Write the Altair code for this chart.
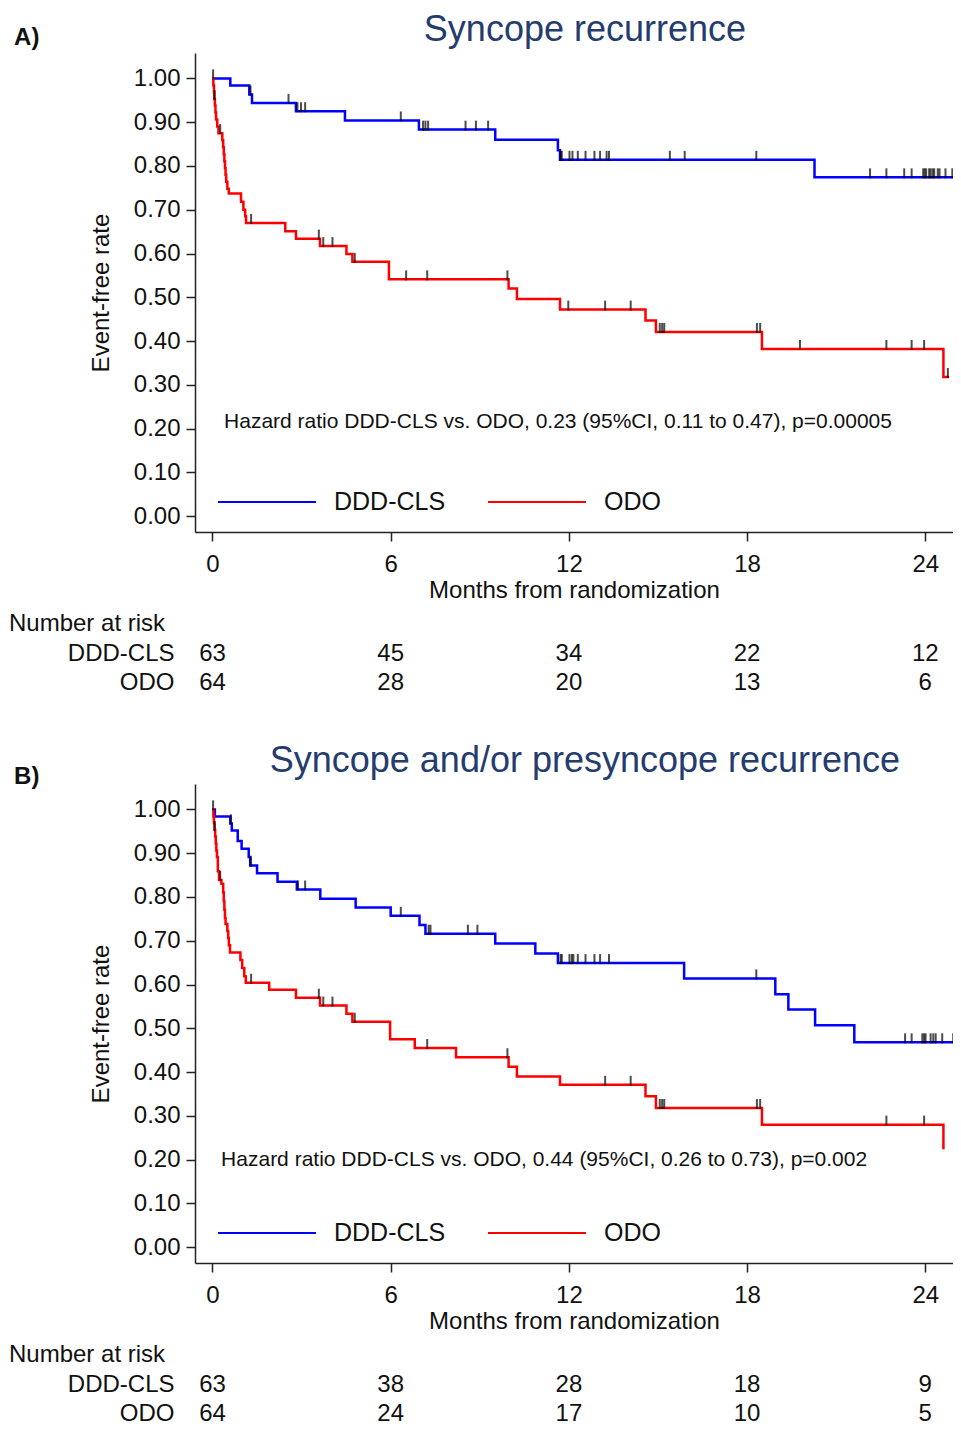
import altair as alt
import pandas as pd

FONT = "Liberation Sans"
GROUPS = ["DDD-CLS", "ODO"]
COLORS = ["#0000FF", "#FF0000"]
MONTH_TICKS = [0, 6, 12, 18, 24]
RATE_TICKS = [0.0, 0.1, 0.2, 0.3, 0.4, 0.5, 0.6, 0.7, 0.8, 0.9, 1.0]
RISK_MONTHS = [0, 6, 12, 18, 24]

# ---------------- Panel A: Syncope recurrence ----------------
a_ddd_t = [0, 0.60, 1.24, 1.33, 2.81, 4.46, 6.95, 9.52, 11.63, 11.70, 20.27, 24.96]
a_ddd_s = [1.0, 0.984, 0.963, 0.944, 0.925, 0.904, 0.883, 0.860, 0.836, 0.814, 0.774, 0.774]
a_ddd_c = [0.02, 1.28, 2.56, 2.86, 2.98, 3.12, 6.34, 7.09, 7.17, 7.26, 8.52, 8.87, 9.28,
           11.72, 11.76, 12.02, 12.12, 12.30, 12.56, 12.86, 13.05, 13.27, 13.35, 15.40,
           15.90, 18.31, 22.14, 22.69, 23.29, 23.54, 23.93, 23.98, 24.03, 24.13, 24.18,
           24.25, 24.30, 24.42, 24.48, 24.68, 24.91]

a_odo_t = [0, 0.03, 0.05, 0.06, 0.08, 0.10, 0.12, 0.16, 0.20, 0.33, 0.36, 0.38, 0.40,
           0.42, 0.44, 0.46, 0.50, 0.55, 0.96, 1.04, 1.10, 1.13, 2.45, 2.81, 3.62, 4.51,
           4.71, 5.94, 9.97, 10.25, 11.70, 14.58, 14.93, 18.50, 24.61, 24.80]
a_odo_s = [1.0, 0.984, 0.969, 0.953, 0.938, 0.922, 0.906, 0.890, 0.875, 0.859, 0.843,
           0.827, 0.811, 0.795, 0.780, 0.764, 0.748, 0.737, 0.718, 0.700, 0.685, 0.670,
           0.651, 0.634, 0.617, 0.599, 0.581, 0.541, 0.520, 0.496, 0.472, 0.447, 0.421,
           0.382, 0.318, 0.318]
a_odo_c = [0.07, 0.26, 1.30, 3.58, 3.73, 4.04, 4.79, 6.52, 7.23, 9.93, 11.98, 13.22,
           14.08, 15.06, 15.14, 15.21, 18.33, 18.44, 19.78, 22.69, 23.54, 23.96, 24.76]

a_risk_ddd = [63, 45, 34, 22, 12]
a_risk_odo = [64, 28, 20, 13, 6]
a_title = "Syncope recurrence"
a_hr = "Hazard ratio DDD-CLS vs. ODO, 0.23 (95%CI, 0.11 to 0.47), p=0.00005"

# ---------------- Panel B: Syncope and/or presyncope recurrence ----------------
b_ddd_t = [0, 0.08, 0.60, 0.65, 0.85, 0.98, 1.22, 1.27, 1.50, 2.19, 2.84, 3.63, 4.82,
           6.00, 6.97, 7.17, 9.52, 10.87, 11.63, 15.88, 18.95, 19.39, 20.29, 21.61, 24.96]
b_ddd_s = [1.0, 0.984, 0.968, 0.952, 0.928, 0.910, 0.891, 0.872, 0.854, 0.835, 0.817,
           0.796, 0.776, 0.757, 0.736, 0.716, 0.694, 0.671, 0.649, 0.614, 0.578, 0.543,
           0.507, 0.468, 0.468]
b_ddd_c = [0.02, 0.62, 1.29, 2.88, 3.12, 6.34, 7.28, 7.34, 8.60, 8.92, 11.72, 11.76,
           12.02, 12.10, 12.15, 12.30, 12.56, 12.86, 13.05, 13.35, 18.31, 23.32, 23.54,
           23.90, 23.96, 24.01, 24.18, 24.27, 24.35, 24.57, 24.94]

b_odo_t = [0, 0.03, 0.05, 0.07, 0.09, 0.11, 0.13, 0.15, 0.18, 0.22, 0.30, 0.36, 0.38,
           0.40, 0.42, 0.44, 0.50, 0.53, 0.55, 0.59, 0.94, 1.00, 1.07, 1.12, 1.91, 2.81,
           3.62, 4.51, 4.71, 5.98, 6.81, 8.20, 9.97, 10.25, 11.70, 14.58, 14.93, 18.50,
           24.61]
b_odo_s = [1.0, 0.984, 0.969, 0.953, 0.938, 0.922, 0.906, 0.891, 0.859, 0.839, 0.830,
           0.810, 0.790, 0.771, 0.752, 0.738, 0.722, 0.706, 0.690, 0.673, 0.656, 0.638,
           0.619, 0.604, 0.588, 0.570, 0.552, 0.533, 0.515, 0.475, 0.455, 0.434, 0.412,
           0.390, 0.371, 0.345, 0.318, 0.280, 0.224]
b_odo_c = [0.07, 0.26, 1.30, 3.58, 3.73, 4.04, 4.79, 7.23, 9.93, 13.22, 14.08, 15.06,
           15.14, 15.21, 18.33, 18.44, 22.69, 23.96]

b_risk_ddd = [63, 38, 28, 18, 9]
b_risk_odo = [64, 24, 17, 10, 5]
b_title = "Syncope and/or presyncope recurrence"
b_hr = "Hazard ratio DDD-CLS vs. ODO, 0.44 (95%CI, 0.26 to 0.73), p=0.002"

X_DOMAIN = [-0.589, 24.933]
Y_DOMAIN = [-0.036, 1.058]
W, H = 758, 479


def curve_df(times, surv, group):
    return pd.DataFrame({"month": times, "surv": surv, "group": group})


def censor_df(ctimes, times, surv, group):
    levels = []
    for c in ctimes:
        lvl = surv[0]
        for t, s in zip(times, surv):
            if t <= c:
                lvl = s
        levels.append(lvl)
    return pd.DataFrame({"month": ctimes, "surv": levels, "group": group})


def make_panel(label, label_y, title, ddd, odo, hr_text, hr_x, hr_y, risk_ddd, risk_odo):
    curves = pd.concat([curve_df(ddd[0], ddd[1], "DDD-CLS"),
                        curve_df(odo[0], odo[1], "ODO")], ignore_index=True)
    cens = pd.concat([censor_df(ddd[2], ddd[0], ddd[1], "DDD-CLS"),
                      censor_df(odo[2], odo[0], odo[1], "ODO")], ignore_index=True)

    xs = alt.Scale(domain=X_DOMAIN, nice=False, zero=False)
    ys = alt.Scale(domain=Y_DOMAIN, nice=False, zero=False)
    x_enc = alt.X("month:Q", scale=xs, axis=alt.Axis(
        values=MONTH_TICKS, title="Months from randomization", grid=False,
        labelFont=FONT, titleFont=FONT, labelFontSize=24, titleFontSize=24,
        labelColor="#111", titleColor="#111", titleFontWeight="normal",
        domainColor="#222", domainWidth=1.5, tickColor="#222", tickWidth=1.5,
        tickSize=9, labelPadding=11, titlePadding=2, labelFlush=False))
    y_enc = alt.Y("surv:Q", scale=ys, axis=alt.Axis(
        values=RATE_TICKS, format=".2f", title="Event-free rate", grid=False,
        labelFont=FONT, titleFont=FONT, labelFontSize=24, titleFontSize=24,
        labelColor="#111", titleColor="#111", titleFontWeight="normal",
        domainColor="#222", domainWidth=1.5, tickColor="#222", tickWidth=1.5,
        tickSize=9, labelPadding=6, titlePadding=20, labelFlush=False))

    lines = alt.Chart(curves).mark_line(
        interpolate="step-after", strokeWidth=2.5, clip=True
    ).encode(
        x=x_enc, y=y_enc,
        color=alt.Color("group:N", scale=alt.Scale(domain=GROUPS, range=COLORS),
                        legend=alt.Legend(
                            title=None, orient="none", legendX=22, legendY=399,
                            direction="horizontal", symbolType="stroke",
                            symbolSize=9604, symbolStrokeWidth=2,
                            labelFont=FONT, labelFontSize=25, labelColor="#111",
                            labelOffset=17, columnPadding=38, padding=0)))

    ticks = alt.Chart(cens).mark_tick(
        orient="vertical", size=10, thickness=2, yOffset=-4, color="#000", clip=True
    ).encode(x=x_enc, y=y_enc)

    hr = alt.Chart(pd.DataFrame({"month": [hr_x], "surv": [hr_y], "txt": [hr_text]})).mark_text(
        align="left", baseline="middle", font=FONT, fontSize=21, color="#111"
    ).encode(x=x_enc, y=y_enc, text="txt:N")

    lab = alt.Chart(pd.DataFrame({"month": [-6.68], "surv": [label_y], "txt": [label]})).mark_text(
        align="left", baseline="middle", font=FONT, fontSize=24, fontWeight="bold", color="#111"
    ).encode(x=x_enc, y=y_enc, text="txt:N")

    ttl = alt.Chart(pd.DataFrame({"month": [12.54], "surv": [1.1105], "txt": [title]})).mark_text(
        align="center", baseline="middle", font=FONT, fontSize=36, color="#253C6E"
    ).encode(x=x_enc, y=y_enc, text="txt:N")

    plot = alt.layer(lines, ticks, hr, lab, ttl).properties(width=W, height=H)

    risk_df = pd.DataFrame({
        "month": RISK_MONTHS + RISK_MONTHS,
        "row": ["DDD-CLS"] * len(RISK_MONTHS) + ["ODO"] * len(RISK_MONTHS),
        "n": risk_ddd + risk_odo,
    })
    risk = alt.Chart(risk_df).mark_text(font=FONT, fontSize=24, color="#111").encode(
        x=alt.X("month:Q", scale=alt.Scale(domain=X_DOMAIN, nice=False, zero=False), axis=None),
        y=alt.Y("row:N", scale=alt.Scale(domain=GROUPS, type="point", padding=0.5),
                axis=alt.Axis(title=None, domain=False, ticks=False, tickSize=0,
                              labelFont=FONT, labelFontSize=24, labelColor="#111",
                              labelPadding=21)),
        text="n:Q",
    ).properties(
        width=W, height=58,
        title=alt.TitleParams("Number at risk", font=FONT, fontSize=24, fontWeight="normal",
                              color="#111", anchor="start", frame="group", dx=-186, offset=3))

    return alt.vconcat(plot, risk, spacing=10).resolve_scale(
        x="independent", y="independent", color="independent"
    ).resolve_legend(color="independent")


panel_a = make_panel("A)", 1.0923, a_title, (a_ddd_t, a_ddd_s, a_ddd_c),
                     (a_odo_t, a_odo_s, a_odo_c), a_hr, 0.39, 0.215, a_risk_ddd, a_risk_odo)
panel_b = make_panel("B)", 1.074, b_title, (b_ddd_t, b_ddd_s, b_ddd_c),
                     (b_odo_t, b_odo_s, b_odo_c), b_hr, 0.29, 0.199, b_risk_ddd, b_risk_odo)

chart = alt.vconcat(panel_a, panel_b, spacing=46).resolve_scale(
    x="independent", y="independent", color="independent"
).resolve_legend(color="independent").properties(
    padding={"left": 1, "top": 4, "right": 0, "bottom": 0}
).configure_view(stroke=None)

chart.save("out.html", embed_options={"renderer": "svg", "actions": False})
